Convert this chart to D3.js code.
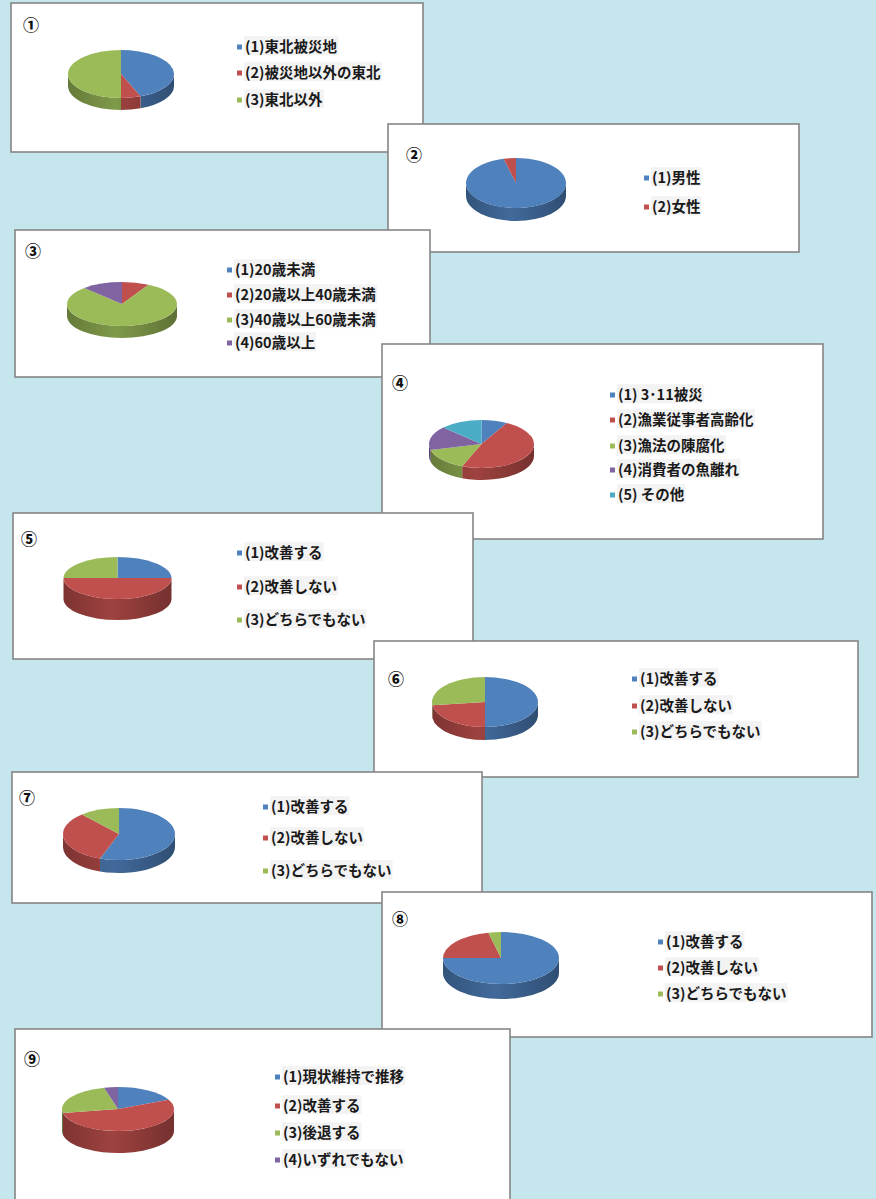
<!DOCTYPE html>
<html><head><meta charset="utf-8">
<script src="https://cdn.jsdelivr.net/npm/d3@7"></script>
<style>html,body{margin:0;padding:0;background:#c5e6ed;} svg{display:block}</style>
</head><body>
<svg id="c" width="876" height="1199"></svg>
<script>
// ---- data ----
const panelNumbers = ["①","②","③","④","⑤","⑥","⑦","⑧","⑨"];
const labels1 = ["(1)東北被災地","(2)被災地以外の東北","(3)東北以外"];
const values1 = [44, 6, 50];
const labels2 = ["(1)男性","(2)女性"];
const values2 = [96, 4];
const labels3 = ["(1)20歳未満","(2)20歳以上40歳未満","(3)40歳以上60歳未満","(4)60歳以上"];
const values3 = [0, 8, 80, 12];
const labels4 = ["(1) 3･11被災","(2)漁業従事者高齢化","(3)漁法の陳腐化","(4)消費者の魚離れ","(5) その他"];
const values4 = [8, 48, 15, 16, 13];
const labels5 = ["(1)改善する","(2)改善しない","(3)どちらでもない"];
const values5 = [25, 50, 25];
const labels6 = ["(1)改善する","(2)改善しない","(3)どちらでもない"];
const values6 = [50, 23, 27];
const labels7 = ["(1)改善する","(2)改善しない","(3)どちらでもない"];
const values7 = [55.5, 33, 11.5];
const labels8 = ["(1)改善する","(2)改善しない","(3)どちらでもない"];
const values8 = [75, 21.5, 3.5];
const labels9 = ["(1)現状維持で推移","(2)改善する","(3)後退する","(4)いずれでもない"];
const values9 = [18, 54, 24, 4];

const allLabels = [labels1,labels2,labels3,labels4,labels5,labels6,labels7,labels8,labels9];
const allValues = [values1,values2,values3,values4,values5,values6,values7,values8,values9];

// ---- layout (positions / sizes) ----
const layout = [
 {box:[11,3,412,149],    pie:[121,74,53,24,12],    num:[23,31],   leg:[237,[47,73,100]]},
 {box:[388,124,411,128], pie:[516,183,50,25,13],   num:[406,161], leg:[644,[178,207]]},
 {box:[15,230,415,147],  pie:[122,304,55,22,12],   num:[25,257],  leg:[227,[270,295,320,343]]},
 {box:[382,344,441,195], pie:[481.5,444,52.5,24,12], num:[392,389], leg:[610,[395,420,446,470,495]]},
 {box:[13,513,460,146],  pie:[117.5,578,54,21,21], num:[21,545],  leg:[237,[553,587,620]]},
 {box:[374,641,484,136], pie:[485,702,53,25,13],   num:[388,685], leg:[632,[679,706,732]]},
 {box:[12,772,470,131],  pie:[119,834,56,26,13],   num:[19,804],  leg:[263,[807,838,871]]},
 {box:[382,892,490,145], pie:[501,958,58,26,15],   num:[392,925], leg:[658,[942,968,994]]},
 {box:[15,1029,495,190], pie:[118,1109,56,22,22],  num:[24,1065], leg:[275,[1077,1106,1133,1160]]},
];

const palette = ["#4f81bd","#c0504d","#9bbb59","#8064a2","#4bacc6"];
const color = d3.scaleOrdinal().domain([0,1,2,3,4]).range(palette);

const svg = d3.select("#c");
const defs = svg.append("defs");

const pie = d3.pie().sort(null).value(d => d).startAngle(0).endAngle(2*Math.PI);

function pt(cx,cy,rx,ry,a){ return [cx + rx*Math.sin(a), cy - ry*Math.cos(a)]; }

allValues.forEach((vals, pi) => {
  const L = layout[pi];
  const g = svg.append("g");
  const [bx,by,bw,bh] = L.box;
  g.append("rect").attr("x",bx).attr("y",by).attr("width",bw).attr("height",bh)
    .attr("fill","#fff").attr("stroke","#858585").attr("stroke-width",1.6);

  g.append("text").attr("x",L.num[0]).attr("y",L.num[1])
    .attr("font-family","'Noto Sans CJK JP', sans-serif").attr("font-size",16).attr("font-weight",900)
    .attr("fill","#111").text(panelNumbers[pi]);

  const [cx,cy,rx,ry,dep] = L.pie;
  const arcs = pie(vals);

  palette.forEach((c,ci) => {
    const gr = defs.append("linearGradient").attr("id",`w${pi}_${ci}`)
      .attr("gradientUnits","userSpaceOnUse")
      .attr("x1",cx-rx).attr("x2",cx+rx).attr("y1",0).attr("y2",0);
    gr.append("stop").attr("offset","0").attr("stop-color", d3.color(c).darker(1.2));
    gr.append("stop").attr("offset","0.45").attr("stop-color", d3.color(c).darker(0.55));
    gr.append("stop").attr("offset","1").attr("stop-color", d3.color(c).darker(1.4));
  });

  // walls (front half)
  arcs.forEach((a,i) => {
    const b0 = Math.max(a.startAngle, Math.PI/2), b1 = Math.min(a.endAngle, 3*Math.PI/2);
    if (b1 - b0 <= 1e-6) return;
    const p0 = pt(cx,cy,rx,ry,b0), p1 = pt(cx,cy,rx,ry,b1);
    const d = `M${p0[0]},${p0[1]} A${rx},${ry} 0 0 1 ${p1[0]},${p1[1]} L${p1[0]},${p1[1]+dep} A${rx},${ry} 0 0 0 ${p0[0]},${p0[1]+dep} Z`;
    g.append("path").attr("d", d).attr("fill", `url(#w${pi}_${i})`);
  });

  // top faces
  arcs.forEach((a,i) => {
    const span = a.endAngle - a.startAngle;
    if (span <= 1e-6) return;
    const p0 = pt(cx,cy,rx,ry,a.startAngle), p1 = pt(cx,cy,rx,ry,a.endAngle);
    const large = span > Math.PI ? 1 : 0;
    const d = `M${cx},${cy} L${p0[0]},${p0[1]} A${rx},${ry} 0 ${large} 1 ${p1[0]},${p1[1]} Z`;
    g.append("path").attr("d", d).attr("fill", color(i));
  });

  // legend
  const [mx, rows] = L.leg;
  allLabels[pi].forEach((lab,i) => {
    const y = rows[i];
    const t = g.append("text").attr("x", mx+8).attr("y", y).attr("dy","0.36em")
      .attr("font-family","'Noto Sans CJK JP', sans-serif").attr("font-size",14.5).attr("font-weight",700)
      .attr("fill","#1a1a1a").text(lab);
    const bb = t.node().getBBox();
    g.insert("rect", () => t.node()).attr("x", bb.x-1).attr("y", bb.y+1).attr("width", bb.width+2).attr("height", bb.height-2)
      .attr("fill","#f3f3f3");
    g.append("rect").attr("x", mx).attr("y", y-2.5).attr("width",5).attr("height",5).attr("fill", color(i));
  });
});
</script></body></html>
